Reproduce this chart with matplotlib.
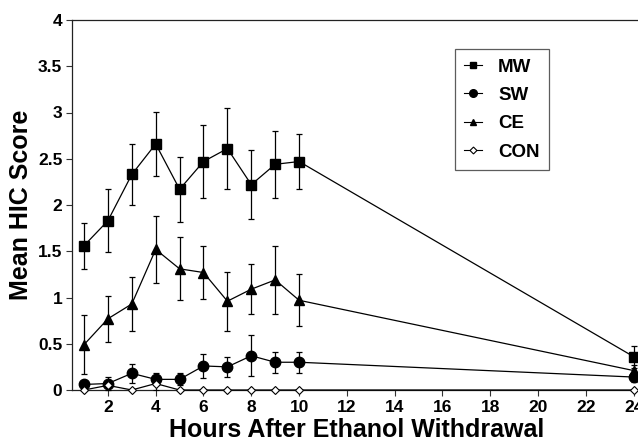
import matplotlib
matplotlib.use("Agg")
import matplotlib.pyplot as plt
from matplotlib.lines import Line2D

hours = [1, 2, 3, 4, 5, 6, 7, 8, 9, 10, 24]

mw = [1.56, 1.83, 2.33, 2.66, 2.17, 2.47, 2.61, 2.22, 2.44, 2.47, 0.36]
mw_err = [0.25, 0.34, 0.33, 0.35, 0.35, 0.39, 0.44, 0.37, 0.36, 0.30, 0.12]

sw = [0.06, 0.07, 0.18, 0.115, 0.115, 0.26, 0.25, 0.37, 0.30, 0.30, 0.14]
sw_err = [0.03, 0.07, 0.10, 0.065, 0.065, 0.125, 0.11, 0.22, 0.115, 0.115, 0.05]

ce = [0.49, 0.77, 0.93, 1.52, 1.31, 1.27, 0.96, 1.09, 1.19, 0.97, 0.21]
ce_err = [0.32, 0.25, 0.29, 0.36, 0.34, 0.29, 0.32, 0.27, 0.37, 0.28, 0.06]

con = [0.0, 0.05, 0.0, 0.07, 0.0, 0.0, 0.0, 0.0, 0.0, 0.0, 0.0]
con_err = [0.0, 0.0, 0.0, 0.07, 0.0, 0.0, 0.0, 0.0, 0.0, 0.0, 0.0]

labels = ["MW", "SW", "CE", "CON"]
xticks = [2, 4, 6, 8, 10, 12, 14, 16, 18, 20, 22, 24]
yticks = [0, 0.5, 1, 1.5, 2, 2.5, 3, 3.5, 4]
ytick_labels = ["0", "0.5", "1", "1.5", "2", "2.5", "3", "3.5", "4"]

plt.rcParams['font.family'] = ['Liberation Sans', 'DejaVu Sans']

fig = plt.figure(figsize=(6.38, 4.42), dpi=100)
W, H = 638, 442
ax_left, ax_top, ax_bottom = 72, 20, 390
x0_px = 60.1
px_per_hr = 23.9
xmin = (ax_left - x0_px) / px_per_hr
xmax = (W - x0_px) / px_per_hr
ax = fig.add_axes([ax_left / W, (H - ax_bottom) / H, 1 - ax_left / W, (ax_bottom - ax_top) / H])

styles = [
    dict(marker='s', markersize=7, markerfacecolor='black', markeredgecolor='black'),
    dict(marker='o', markersize=7.5, markerfacecolor='black', markeredgecolor='black'),
    dict(marker='^', markersize=7, markerfacecolor='black', markeredgecolor='black'),
    dict(marker='D', markersize=4, markerfacecolor='white', markeredgecolor='black', markeredgewidth=0.8),
]
leg_sizes = [5, 5.5, 5, 3.5]
data = [(mw, mw_err), (sw, sw_err), (ce, ce_err), (con, con_err)]
handles = []
for (vals, errs), mk, ls in zip(data, styles, leg_sizes):
    ax.errorbar(hours, vals, yerr=errs, color='black', lw=0.9, elinewidth=0.9,
                capsize=2.2, capthick=0.9, clip_on=False, zorder=3, **mk)
    hmk = dict(mk)
    hmk['markersize'] = ls
    handles.append(Line2D([], [], color='black', lw=0.8, **hmk))

ax.set_xlim(xmin, xmax)
ax.set_ylim(0, 4)
ax.set_xticks(xticks)
ax.set_xticklabels([str(t) for t in xticks])
ax.set_yticks(yticks)
ax.set_yticklabels(ytick_labels)
for s in ['left', 'bottom', 'top']:
    ax.spines[s].set_linewidth(0.9)
    ax.spines[s].set_color('#222222')
ax.spines['right'].set_visible(False)
ax.tick_params(axis='both', direction='out', length=4, width=0.8, color='#333333',
               labelsize=12.5, pad=3)
for lbl in ax.get_xticklabels() + ax.get_yticklabels():
    lbl.set_fontweight('bold')

ax.set_xlabel("Hours After Ethanol Withdrawal", fontsize=18, fontweight='bold')
ax.set_ylabel("Mean HIC Score", fontsize=18, fontweight='bold')
ax.xaxis.set_label_coords((357 - ax_left) / (W - ax_left), -0.075)
ax.yaxis.set_label_coords(-(ax_left - 33) / (W - ax_left), 0.5)

leg = ax.legend(handles, labels, loc='upper left',
                bbox_to_anchor=((455 - ax_left) / (W - ax_left), (ax_bottom - 49) / (ax_bottom - ax_top)),
                frameon=True, fancybox=False, edgecolor='#333333', handlelength=0.95,
                handletextpad=0.85, borderpad=0.5, borderaxespad=0, labelspacing=0.6,
                prop={'weight': 'bold', 'size': 13.5})
leg.get_frame().set_linewidth(0.9)

fig.savefig("out.png", dpi=100)
